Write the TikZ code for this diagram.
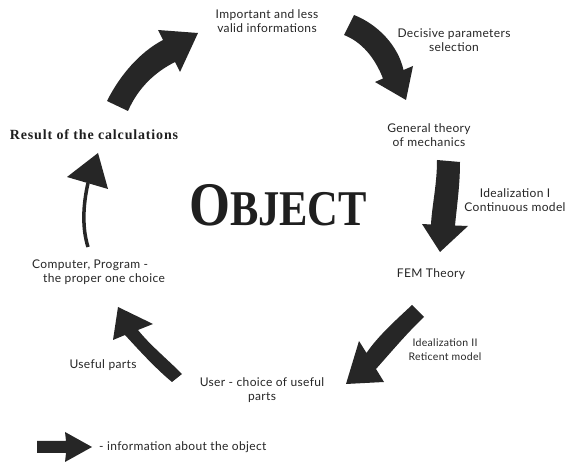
\documentclass[tikz,border=0pt]{standalone}
\usepackage{fontspec}
\setmainfont[LetterSpace=3]{Lato}
\newfontfamily\objfont{Liberation Serif}
\newfontfamily\resfont[LetterSpace=6]{Liberation Serif}
\begin{document}
\begin{tikzpicture}[x=1pt,y=-1pt,
  lbl/.style={font=\fontsize{12}{14}\selectfont, text=black!85, align=center, inner sep=0pt},
  boldlbl/.style={font=\resfont\bfseries\fontsize{14}{16}\selectfont, text=black!88, inner sep=0pt},
  blk/.style={fill=black!85, draw=none}]
\fill[white] (0,0) rectangle (571,462);
\useasboundingbox (0,0) rectangle (571,462);

% labels
\node[lbl] (imp) at (267,21) {Important and less\\valid informations};
\node[lbl] (dec) at (454,40) {Decisive parameters\\selection};
\node[lbl] (gen) at (429,135) {General theory\\of mechanics};
\node[lbl] (idI) at (515,200) {Idealization I\\Continuous model};
\node[lbl] (fem) at (431,274) {FEM Theory};
\node[lbl, font=\fontsize{10.5}{14}\selectfont] (idII) at (445,350) {Idealization II\\Reticent model};
\node[lbl] (user) at (262,390) {User - choice of useful\\parts};
\node[lbl] (usef) at (103,365) {Useful parts};
\node[lbl, align=left, anchor=west] (comp) at (32,272) {Computer, Program -\\\hspace*{11pt}the proper one choice};
\node[boldlbl] (res) at (94,135) {Result of the calculations};
\node[inner sep=0pt, text=black!88] (obj) at (278,205) {\scalebox{0.85}[1]{\objfont\bfseries\fontsize{62}{62}\selectfont O\fontsize{50}{50}\selectfont BJECT}};
\node[lbl, anchor=west] (leg) at (99,447) {- information about the object};

% arrow 1 (upper left)
\fill[blk] (107,101) .. controls (120,75) and (140,52) .. (163,40)
  -- (158,30) -- (198,33) -- (180,72) -- (175,62)
  .. controls (155,72) and (138,88) .. (128,111) -- cycle;
% arrow 2 (top right)
\fill[blk] (354,15) .. controls (377,24) and (398,45) .. (403.5,70)
  -- (413,66) -- (406,100) -- (375,82) -- (383,78.5)
  .. controls (375,58) and (362,42) .. (344,35) -- cycle;
% arrow 3 (right)
\fill[blk] (437,160) .. controls (437,185) and (432,205) .. (431,224.5)
  -- (422,224) -- (440,252) -- (468,226) -- (455,225.5)
  .. controls (457,205) and (460,185) .. (460,162) -- cycle;
% arrow 4 (lower right)
\fill[blk] (412,305) .. controls (396,320) and (378,336) .. (366.5,353)
  -- (359,341) -- (346,384) -- (384,382) -- (376,369)
  .. controls (392,351) and (408,332) .. (424,317) -- cycle;
% arrow 5 (lower left)
\fill[blk] (172,382) .. controls (155,368) and (137,348) .. (125,335)
  -- (113,340) -- (118,307) -- (153,324) -- (138,330)
  .. controls (150,345) and (166,358) .. (182,374) -- cycle;
% arrow 6 (thin, left)
\draw[black!85, line width=3.5pt] (88,247) .. controls (82,228) and (83,205) .. (88,183);
\fill[blk] (67,177) -- (98,153) -- (108,189) -- cycle;
% legend arrow
\fill[blk] (37,441) -- (66,441) -- (65,432) -- (92,447) -- (65,462) -- (66,453) -- (37,453) -- cycle;
\end{tikzpicture}
\end{document}
